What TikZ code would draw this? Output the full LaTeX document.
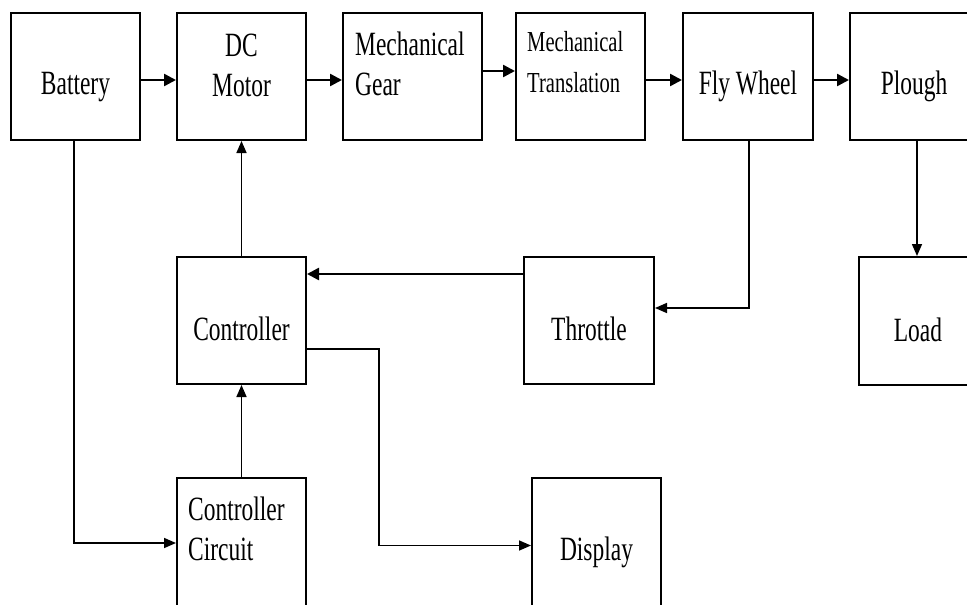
\documentclass[tikz,border=0pt]{standalone}
\usepackage{fontspec}
\setmainfont{Liberation Serif}[FakeStretch=0.69]
\newfontfamily\smallserif{Liberation Serif}[FakeStretch=0.71]
\usetikzlibrary{arrows.meta}
\tikzset{
  box/.style={draw, line width=2pt, inner sep=0pt, minimum height=127pt},
  lbl/.style={inner sep=0pt, font=\fontsize{34pt}{40pt}\selectfont},
  lblsm/.style={inner sep=0pt, font=\smallserif\fontsize{29pt}{34pt}\selectfont},
  flow/.style={line width=2.5pt, -{Triangle[length=12pt,width=12pt]}},
  link/.style={line width=1.6pt, -{Triangle[length=12pt,width=10pt]}},
}
\begin{document}
\begin{tikzpicture}[x=1pt, y=-1pt]
\useasboundingbox (0,0) rectangle (967,605);
\fill[white] (0,0) rectangle (967,605);
\clip (0,0) rectangle (967,605);

% boxes
\node[box, minimum width=129pt] (bat) at (75.5,76.5) {};
\node[box, minimum width=129pt] (dcm) at (241.5,76.5) {};
\node[box, minimum width=139pt] (gear) at (412.5,76.5) {};
\node[box, minimum width=129pt] (trans) at (580.5,76.5) {};
\node[box, minimum width=130pt] (fly) at (748,76.5) {};
\node[box, minimum width=130pt] (plough) at (915,76.5) {};
\node[box, minimum width=129pt] (ctrl) at (241.5,320.5) {};
\node[box, minimum width=130pt] (thr) at (589,320.5) {};
\node[box, minimum width=130pt, minimum height=128pt] (load) at (924,321) {};
\node[box, minimum width=129pt, minimum height=132pt] (cc) at (241.5,544) {};
\node[box, minimum width=129pt, minimum height=132pt] (disp) at (596.5,544) {};

% texts
\node[lbl, anchor=base] (tbat) at (75.5,94) {Battery};
\node[lbl, anchor=base] (tdc1) at (241.5,56) {DC};
\node[lbl, anchor=base] (tdc2) at (241.5,96) {Motor};
\node[lbl, anchor=base west] (tg1) at (355,55) {Mechanical};
\node[lbl, anchor=base west] (tg2) at (355,95) {Gear};
\node[lblsm, anchor=base west] (tt1) at (527,51) {Mechanical};
\node[lblsm, anchor=base west] (tt2) at (527,92) {Translation};
\node[lbl, anchor=base] (tfly) at (748,94) {Fly Wheel};
\node[lbl, anchor=base] (tplo) at (914,94) {Plough};
\node[lbl, anchor=base] (tctrl) at (241.5,340) {Controller};
\node[lbl, anchor=base] (tthr) at (589,340) {Throttle};
\node[lbl, anchor=base] (tload) at (918,341) {Load};
\node[lbl, anchor=base west] (tcc1) at (188,520) {Controller};
\node[lbl, anchor=base west] (tcc2) at (188,560) {Circuit};
\node[lbl, anchor=base] (tdisp) at (596.5,560) {Display};

% top row flow
\draw[flow] ([yshift=-3.5pt]bat.east) -- ([yshift=-3.5pt]dcm.west);
\draw[flow] ([yshift=-3.5pt]dcm.east) -- ([yshift=-3.5pt]gear.west);
\draw[flow] ([yshift=5.5pt]gear.east) -- ([yshift=5.5pt]trans.west);
\draw[flow] ([yshift=-3.5pt]trans.east) -- ([yshift=-3.5pt]fly.west);
\draw[flow] ([yshift=-3.5pt]fly.east) -- ([yshift=-3.5pt]plough.west);

% plough to load
\draw[link] ([xshift=2pt]plough.south) -- ([xshift=2pt]plough.south |- load.north);

% fly wheel to throttle
\draw[link] ([xshift=1pt]fly.south) |- ([yshift=12.5pt]thr.east);

% throttle to controller
\draw[flow] ([yshift=46.5pt]thr.west) -- ([yshift=46.5pt]ctrl.east);

% controller to DC motor
\draw[link] (ctrl.north) -- (dcm.south);

% controller to display
\coordinate (k1) at (379,349);
\draw[link] ([yshift=-28.5pt]ctrl.east) -- (k1) |- ([yshift=-1.5pt]disp.west);

% battery to controller circuit
\draw[link] ([xshift=-1.5pt]bat.south) |- ([yshift=1pt]cc.west);

% controller circuit to controller
\draw[link] (cc.north) -- (ctrl.south);
\end{tikzpicture}
\end{document}
